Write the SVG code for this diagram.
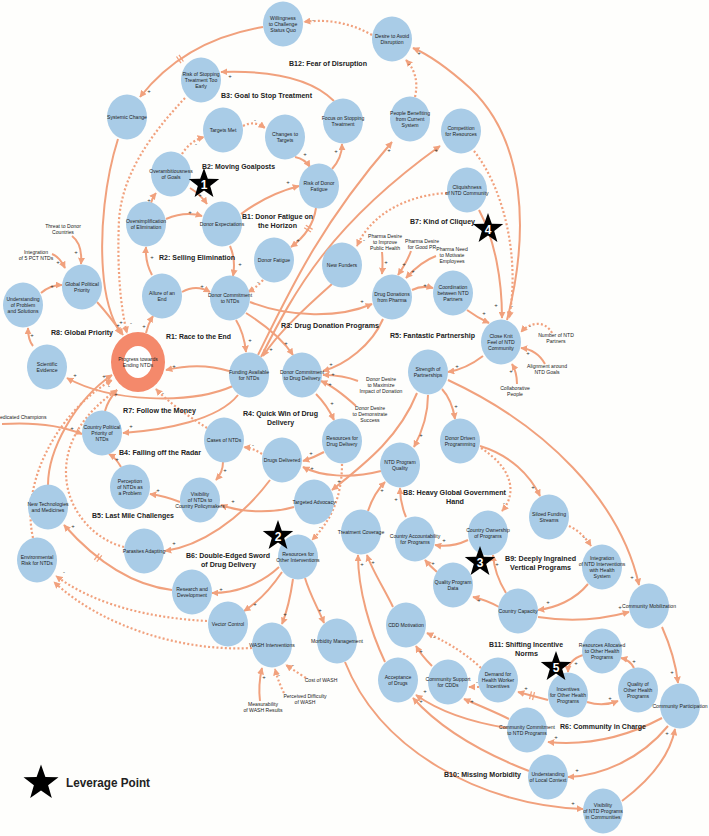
<svg xmlns="http://www.w3.org/2000/svg" width="709" height="836" viewBox="0 0 709 836">
<style>
.e{fill:none;stroke:#f1a17d;stroke-width:2;marker-end:url(#ah)}
.d{fill:none;stroke:#f1a17d;stroke-width:2.2;stroke-dasharray:2 2.2;marker-end:url(#ah)}
.dl{stroke:#f1a17d;stroke-width:1.3}
.nd{fill:#a9cce7}
.t{font-family:"Liberation Sans",Arial,sans-serif;font-size:5.1px;fill:#222;text-anchor:middle}
.lp{font-family:"Liberation Sans",Arial,sans-serif;font-weight:bold;font-size:7.2px;fill:#222}
.s{font-family:"Liberation Sans",Arial,sans-serif;font-size:6px;fill:#333;text-anchor:middle}
.sn{font-family:"Liberation Sans",Arial,sans-serif;font-weight:bold;font-size:12px;fill:#fff;text-anchor:middle}
</style>
<defs>
<marker id="ah" viewBox="0 0 10 10" refX="9" refY="5" markerWidth="7" markerHeight="7" markerUnits="userSpaceOnUse" orient="auto"><path d="M0,0 L10,5 L0,10 z" fill="#f1a17d"/></marker>
<path id="star" d="M0,-16 L3.82,-5.26 L15.22,-4.94 L6.18,2.01 L9.4,12.94 L0,6.5 L-9.4,12.94 L-6.18,2.01 L-15.22,-4.94 L-3.82,-5.26 Z" fill="#000"/>
</defs>
<rect width="709" height="836" fill="#fefefc"/>
<g id="connectors">
<path class="e" d="M263,27 Q185,40 140,97"/>
<path class="d" d="M372,35 Q340,17 304,22"/>
<path class="d" d="M415,97 Q420,75 406,60"/>
<path class="e" d="M507,320 C530,230 525,140 470,88 C450,70 432,56 413,48"/>
<path class="d" d="M474,151 C505,190 520,260 509,318"/>
<path class="e" d="M479,210 C495,240 502,280 502,318"/>
<path class="d" d="M447,193 C410,195 372,212 357,246"/>
<path class="d" d="M243,126 Q254,120 265,128"/>
<path class="d" d="M182,154 Q190,141 204,137"/>
<path class="e" d="M295,157 Q305,159 310,167"/>
<path class="e" d="M332,169 Q342,158 342,144"/>
<path class="e" d="M334,101 C315,82 280,70 221,72"/>
<path class="d" d="M185,98 C150,135 122,175 119,220 C117,265 120,305 127,333"/>
<path class="e" d="M118,139 C105,180 100,230 103,270 C105,300 112,320 121,334"/>
<path class="e" d="M151,203 Q152,198 156,193"/>
<path class="e" d="M190,188 Q200,194 207,204"/>
<path class="e" d="M166,219 Q185,211 202,216"/>
<path class="e" d="M241,214 Q268,194 299,186"/>
<path class="e" d="M230,246 Q236,260 233,276"/>
<path class="e" d="M152,275 Q145,262 146,247"/>
<path class="e" d="M182,292 Q196,284 210,292"/>
<path class="e" d="M146,333 Q148,324 153,316"/>
<path class="d" d="M263,280 Q256,288 248,292"/>
<path class="e" d="M316,208 C314,222 306,236 291,247"/>
<path class="e" d="M236,320 Q244,333 246,352"/>
<path class="e" d="M246,313 C265,325 283,340 293,355"/>
<path class="e" d="M250,302 C290,318 340,318 372,304"/>
<path class="e" d="M258,355 C290,290 320,225 392,142"/>
<path class="e" d="M261,357 C295,290 330,225 440,146"/>
<path class="e" d="M332,284 C305,308 278,333 263,356"/>
<path class="e" d="M229,371 Q200,362 166,370"/>
<path class="e" d="M233,386 C190,405 110,402 67,378"/>
<path class="e" d="M238,395 C218,420 165,430 123,433"/>
<path class="d" d="M207,428 C188,416 168,402 156,389"/>
<path class="d" d="M262,454 Q253,448 244,447"/>
<path class="e" d="M223,462 Q223,472 216,480"/>
<path class="e" d="M180,502 Q165,496 150,494"/>
<path class="e" d="M121,467 Q116,458 109,454"/>
<path class="e" d="M2,424 Q50,421 82,434"/>
<path class="e" d="M294,507 C270,514 240,512 221,505"/>
<path class="e" d="M324,452 Q313,458 303,461"/>
<path class="e" d="M381,471 C350,479 320,476 303,467"/>
<path class="e" d="M270,480 C240,520 200,546 165,551"/>
<path class="d" d="M342,464 C342,495 332,520 312,540"/>
<path class="e" d="M417,393 C400,435 370,460 332,490"/>
<path class="e" d="M428,395 C428,415 422,432 414,447"/>
<path class="e" d="M442,389 Q452,400 455,419"/>
<path class="e" d="M448,380 C545,425 620,500 639,585"/>
<path class="e" d="M480,446 C510,455 530,475 540,496"/>
<path class="d" d="M481,448 C515,470 516,495 502,511"/>
<path class="d" d="M569,526 Q582,532 591,546"/>
<path class="e" d="M588,584 C575,600 555,608 538,610"/>
<path class="e" d="M538,617 C570,622 600,620 629,612"/>
<path class="e" d="M506,593 C498,580 494,568 493,555"/>
<path class="e" d="M499,607 C490,602 482,599 473,597"/>
<path class="e" d="M468,540 Q451,548 435,545"/>
<path class="e" d="M437,572 Q430,566 425,560"/>
<path class="e" d="M406,517 Q400,503 400,488"/>
<path class="e" d="M368,511 Q374,493 385,482"/>
<path class="e" d="M393,607 C385,590 372,570 367,555"/>
<path class="e" d="M385,662 C370,630 358,590 358,555"/>
<path class="e" d="M432,666 C426,660 420,653 416,646"/>
<path class="d" d="M481,668 C462,650 442,640 427,633"/>
<path class="e" d="M548,700 Q533,696 518,692"/>
<path class="e" d="M587,702 Q603,707 618,701"/>
<path class="e" d="M634,668 Q630,660 621,658"/>
<path class="e" d="M583,655 Q568,660 568,672"/>
<path class="d" d="M479,687 L469,687"/>
<path class="e" d="M509,719 C495,712 478,705 464,699"/>
<path class="e" d="M507,728 C470,722 440,712 416,695"/>
<path class="e" d="M529,771 C480,752 440,728 413,698"/>
<path class="e" d="M662,718 C630,735 590,746 548,742"/>
<path class="e" d="M668,726 C640,760 600,776 568,777"/>
<path class="e" d="M622,801 C650,780 670,755 675,729"/>
<path class="e" d="M345,662 C380,750 480,805 583,809"/>
<path class="e" d="M662,627 C670,645 676,665 678,683"/>
<path class="e" d="M282,572 C270,590 258,602 244,611"/>
<path class="e" d="M279,567 C260,585 235,593 212,593"/>
<path class="e" d="M293,579 C290,600 286,614 282,624"/>
<path class="e" d="M305,578 C310,595 318,608 324,623"/>
<path class="e" d="M172,590 C130,585 95,560 64,525"/>
<path class="d" d="M207,621 C150,618 95,605 56,576"/>
<path class="d" d="M252,648 C180,652 100,625 54,582"/>
<path class="d" d="M33,538 C20,480 60,410 112,380"/>
<path class="e" d="M48,485 C48,450 75,400 112,375"/>
<path class="d" d="M124,547 C95,540 65,510 66,470 C67,432 95,405 117,390"/>
<path class="e" d="M105,411 Q108,400 117,390"/>
<path class="e" d="M97,302 C108,314 116,325 123,335"/>
<path class="e" d="M72,236 C80,242 82,252 81,264"/>
<path class="e" d="M52,254 C58,256 62,262 65,268"/>
<path class="e" d="M41,293 Q50,285 62,285"/>
<path class="e" d="M33,346 Q28,340 28,328"/>
<path class="e" d="M412,290 Q422,285 433,288"/>
<path class="e" d="M467,310 Q478,318 489,323"/>
<path class="e" d="M483,356 C470,366 460,370 448,372"/>
<path class="d" d="M552,333 C545,320 530,322 521,332"/>
<path class="e" d="M545,364 C540,355 531,349 521,348"/>
<path class="e" d="M517,384 C517,376 515,369 512,364"/>
<path class="e" d="M382,252 Q383,263 382,274"/>
<path class="e" d="M411,251 Q407,262 398,275"/>
<path class="e" d="M436,256 C425,260 415,268 406,278"/>
<path class="e" d="M383,319 C372,345 345,365 323,371"/>
<path class="e" d="M358,381 Q343,375 323,375"/>
<path class="e" d="M356,406 C345,396 333,386 321,381"/>
<path class="e" d="M316,394 Q327,405 334,420"/>
<path class="d" d="M306,678 Q295,671 286,665"/>
<path class="d" d="M284,693 Q278,681 275,669"/>
<path class="e" d="M260,701 Q258,685 262,668"/>
<path class="dl" d="M176.5,56.5 L181,63.1 M179,54.9 L183.4,61.5"/>
<path class="dl" d="M304.2,227.8 L311,232 M305.8,225.2 L312.6,229.4"/>
<path class="dl" d="M94.3,559.8 L99.3,553.5 M96.8,561.6 L101.8,555.4"/>
<path class="dl" d="M532.5,700 L534.5,692.2 M529.5,699.2 L531.5,691.4"/>
</g>
<g id="polarity" class="s">
<text x="149" y="93">+</text><text x="313" y="22">-</text><text x="409" y="66">-</text><text x="419" y="55">+</text>
<text x="512" y="308">-</text><text x="496" y="307">+</text><text x="364" y="242">-</text><text x="255" y="122">-</text>
<text x="196" y="146">-</text><text x="305" y="156">+</text><text x="336" y="153">+</text><text x="230" y="78">+</text>
<text x="131" y="325">-</text><text x="121" y="324">+</text><text x="149" y="202">+</text><text x="200" y="197">+</text>
<text x="190" y="214">+</text><text x="288" y="184">+</text><text x="240" y="266">+</text><text x="152" y="259">+</text>
<text x="202" y="288">+</text><text x="144" y="328">+</text><text x="258" y="284">-</text><text x="298" y="242">+</text>
<text x="250" y="342">+</text><text x="286" y="345">+</text><text x="362" y="303">+</text><text x="389" y="152">+</text>
<text x="436" y="152">+</text><text x="271" y="351">+</text><text x="174" y="368">+</text><text x="75" y="377">+</text>
<text x="131" y="428">+</text><text x="163" y="395">-</text><text x="253" y="447">-</text><text x="225" y="472">+</text>
<text x="158" y="492">+</text><text x="117" y="461">+</text><text x="72" y="430">+</text><text x="233" y="503">+</text>
<text x="311" y="455">+</text><text x="312" y="470">+</text><text x="174" y="545">+</text><text x="320" y="529">-</text>
<text x="339" y="483">+</text><text x="421" y="437">+</text><text x="456" y="408">+</text><text x="632" y="579">+</text>
<text x="533" y="489">+</text><text x="504" y="505">-</text><text x="584" y="539">-</text><text x="548" y="604">+</text>
<text x="620" y="609">+</text><text x="497" y="566">+</text><text x="479" y="602">+</text><text x="444" y="542">+</text>
<text x="433" y="565">+</text><text x="396" y="501">+</text><text x="382" y="492">+</text><text x="373" y="564">+</text>
<text x="362" y="566">+</text><text x="421" y="653">+</text><text x="434" y="639">-</text><text x="526" y="690">+</text>
<text x="610" y="700">+</text><text x="634" y="663">+</text><text x="576" y="665">+</text><text x="477" y="684">-</text>
<text x="472" y="703">+</text><text x="425" y="693">+</text><text x="421" y="703">+</text><text x="556" y="739">+</text>
<text x="577" y="772">+</text><text x="667" y="735">+</text><text x="573" y="805">+</text><text x="672" y="674">+</text>
<text x="255" y="606">+</text><text x="221" y="591">+</text><text x="285" y="616">+</text><text x="320" y="612">+</text>
<text x="73" y="528">+</text><text x="64" y="574">-</text><text x="109" y="388">-</text><text x="104" y="378">+</text>
<text x="116" y="396">+</text><text x="118" y="327">+</text><text x="76" y="254">+</text><text x="58" y="264">+</text>
<text x="52" y="288">+</text><text x="32" y="337">+</text><text x="425" y="287">+</text><text x="484" y="315">+</text>
<text x="457" y="368">+</text><text x="530" y="328">-</text><text x="528" y="355">+</text><text x="511" y="373">+</text>
<text x="386" y="264">+</text><text x="404" y="266">+</text><text x="413" y="273">+</text><text x="331" y="366">+</text>
<text x="333" y="376">+</text><text x="330" y="386">+</text><text x="332" y="405">+</text><text x="293" y="667">-</text>
<text x="279" y="677">-</text><text x="264" y="679">+</text>
</g>
<g id="n-willingness"><ellipse class="nd" cx="283" cy="24" rx="20" ry="22.5"/><text class="t" x="283" y="20">Willingness<tspan x="283" dy="5.8">to Challenge</tspan><tspan x="283" dy="5.8">Status Quo</tspan></text></g>
<g id="n-desire"><ellipse class="nd" cx="392" cy="39" rx="20" ry="22.5"/><text class="t" x="392" y="37.9">Desire to Avoid<tspan x="392" dy="5.8">Disruption</tspan></text></g>
<g id="n-riskstop"><ellipse class="nd" cx="201" cy="80" rx="20" ry="22.5"/><text class="t" x="201" y="76">Risk of Stopping<tspan x="201" dy="5.8">Treatment Too</tspan><tspan x="201" dy="5.8">Early</tspan></text></g>
<g id="n-systemic"><ellipse class="nd" cx="127" cy="117" rx="20" ry="22.5"/><text class="t" x="127" y="118.8">Systemic Change</text></g>
<g id="n-targetsmet"><ellipse class="nd" cx="223" cy="130" rx="20" ry="22.5"/><text class="t" x="223" y="131.8">Targets Met</text></g>
<g id="n-overamb"><ellipse class="nd" cx="171" cy="174" rx="20" ry="22.5"/><text class="t" x="171" y="172.9">Overambitiousness<tspan x="171" dy="5.8">of Goals</tspan></text></g>
<g id="n-changes"><ellipse class="nd" cx="285" cy="137" rx="20" ry="22.5"/><text class="t" x="285" y="135.9">Changes to<tspan x="285" dy="5.8">Targets</tspan></text></g>
<g id="n-focus"><ellipse class="nd" cx="343" cy="121" rx="20" ry="22.5"/><text class="t" x="343" y="119.9">Focus on Stopping<tspan x="343" dy="5.8">Treatment</tspan></text></g>
<g id="n-people"><ellipse class="nd" cx="410" cy="119" rx="20" ry="22.5"/><text class="t" x="410" y="115">People Benefiting<tspan x="410" dy="5.8">from Current</tspan><tspan x="410" dy="5.8">System</tspan></text></g>
<g id="n-competition"><ellipse class="nd" cx="461" cy="131" rx="20" ry="22.5"/><text class="t" x="461" y="129.9">Competition<tspan x="461" dy="5.8">for Resources</tspan></text></g>
<g id="n-riskdf"><ellipse class="nd" cx="319" cy="186" rx="20" ry="22.5"/><text class="t" x="319" y="184.9">Risk of Donor<tspan x="319" dy="5.8">Fatigue</tspan></text></g>
<g id="n-cliq"><ellipse class="nd" cx="467" cy="190" rx="20" ry="22.5"/><text class="t" x="467" y="188.9">Cliquishness<tspan x="467" dy="5.8">of NTD Community</tspan></text></g>
<g id="n-donorexp"><ellipse class="nd" cx="222" cy="224" rx="20" ry="22.5"/><text class="t" x="222" y="225.8">Donor Expectations</text></g>
<g id="n-oversimp"><ellipse class="nd" cx="146" cy="224" rx="20" ry="22.5"/><text class="t" x="146" y="222.9">Oversimplification<tspan x="146" dy="5.8">of Elimination</tspan></text></g>
<g id="n-donorfat"><ellipse class="nd" cx="274" cy="260" rx="20" ry="22.5"/><text class="t" x="274" y="261.8">Donor Fatigue</text></g>
<g id="n-newfunders"><ellipse class="nd" cx="342" cy="265" rx="20" ry="22.5"/><text class="t" x="342" y="266.8">New Funders</text></g>
<g id="n-drugdon"><ellipse class="nd" cx="392" cy="297" rx="20" ry="22.5"/><text class="t" x="392" y="295.9">Drug Donations<tspan x="392" dy="5.8">from Pharma</tspan></text></g>
<g id="n-coord"><ellipse class="nd" cx="453" cy="293" rx="20" ry="22.5"/><text class="t" x="453" y="289">Coordination<tspan x="453" dy="5.8">between NTD</tspan><tspan x="453" dy="5.8">Partners</tspan></text></g>
<g id="n-closeknit"><ellipse class="nd" cx="501" cy="342" rx="20" ry="22.5"/><text class="t" x="501" y="338">Close Knit<tspan x="501" dy="5.8">Feel of NTD</tspan><tspan x="501" dy="5.8">Community</tspan></text></g>
<g id="n-allure"><ellipse class="nd" cx="162" cy="296" rx="20" ry="22.5"/><text class="t" x="162" y="294.9">Allure of an<tspan x="162" dy="5.8">End</tspan></text></g>
<g id="n-dcntd"><ellipse class="nd" cx="230" cy="298" rx="20" ry="22.5"/><text class="t" x="230" y="296.9">Donor Commitment<tspan x="230" dy="5.8">to NTDs</tspan></text></g>
<g id="n-gpp"><ellipse class="nd" cx="82" cy="287" rx="20" ry="22.5"/><text class="t" x="82" y="285.9">Global Political<tspan x="82" dy="5.8">Priority</tspan></text></g>
<g id="n-underst"><ellipse class="nd" cx="23" cy="305" rx="20" ry="22.5"/><text class="t" x="23" y="301">Understanding<tspan x="23" dy="5.8">of Problem</tspan><tspan x="23" dy="5.8">and Solutions</tspan></text></g>
<g id="n-scievid"><ellipse class="nd" cx="47" cy="367" rx="20" ry="22.5"/><text class="t" x="47" y="365.9">Scientific<tspan x="47" dy="5.8">Evidence</tspan></text></g>
<g id="n-progress"><ellipse cx="138" cy="362" rx="27" ry="30" fill="#f4896b"/><ellipse cx="138" cy="362" rx="14" ry="16" fill="#fff"/><text class="t" x="138" y="360.9">Progress towards<tspan x="138" dy="5.8">Ending NTDs</tspan></text></g>
<g id="n-funding"><ellipse class="nd" cx="249" cy="375" rx="20" ry="22.5"/><text class="t" x="249" y="373.9">Funding Available<tspan x="249" dy="5.8">for NTDs</tspan></text></g>
<g id="n-dcdd"><ellipse class="nd" cx="302" cy="375" rx="20" ry="22.5"/><text class="t" x="302" y="373.9">Donor Commitment<tspan x="302" dy="5.8">to Drug Delivery</tspan></text></g>
<g id="n-strength"><ellipse class="nd" cx="428" cy="372" rx="20" ry="22.5"/><text class="t" x="428" y="370.9">Strength of<tspan x="428" dy="5.8">Partnerships</tspan></text></g>
<g id="n-cpp"><ellipse class="nd" cx="102" cy="433" rx="20" ry="22.5"/><text class="t" x="102" y="429">Country Political<tspan x="102" dy="5.8">Priority of</tspan><tspan x="102" dy="5.8">NTDs</tspan></text></g>
<g id="n-cases"><ellipse class="nd" cx="224" cy="440" rx="20" ry="22.5"/><text class="t" x="224" y="441.8">Cases of NTDs</text></g>
<g id="n-percep"><ellipse class="nd" cx="130" cy="487" rx="20" ry="22.5"/><text class="t" x="130" y="483">Perception<tspan x="130" dy="5.8">of NTDs as</tspan><tspan x="130" dy="5.8">a Problem</tspan></text></g>
<g id="n-visib"><ellipse class="nd" cx="200" cy="500" rx="20" ry="22.5"/><text class="t" x="200" y="496">Visibility<tspan x="200" dy="5.8">of NTDs to</tspan><tspan x="200" dy="5.8">Country Policymakers</tspan></text></g>
<g id="n-resdd"><ellipse class="nd" cx="342" cy="441" rx="20" ry="22.5"/><text class="t" x="342" y="439.9">Resources for<tspan x="342" dy="5.8">Drug Delivery</tspan></text></g>
<g id="n-drugsdel"><ellipse class="nd" cx="282" cy="460" rx="20" ry="22.5"/><text class="t" x="282" y="461.8">Drugs Delivered</text></g>
<g id="n-ntdpq"><ellipse class="nd" cx="400" cy="465" rx="20" ry="22.5"/><text class="t" x="400" y="463.9">NTD Program<tspan x="400" dy="5.8">Quality</tspan></text></g>
<g id="n-donordriven"><ellipse class="nd" cx="460" cy="441" rx="20" ry="22.5"/><text class="t" x="460" y="439.9">Donor Driven<tspan x="460" dy="5.8">Programming</tspan></text></g>
<g id="n-targadv"><ellipse class="nd" cx="314" cy="502" rx="20" ry="22.5"/><text class="t" x="314" y="503.8">Targeted Advocacy</text></g>
<g id="n-newtech"><ellipse class="nd" cx="48" cy="507" rx="20" ry="22.5"/><text class="t" x="48" y="505.9">New Technologies<tspan x="48" dy="5.8">and Medicines</tspan></text></g>
<g id="n-parasites"><ellipse class="nd" cx="144" cy="551" rx="20" ry="22.5"/><text class="t" x="144" y="552.8">Parasites Adapting</text></g>
<g id="n-envrisk"><ellipse class="nd" cx="37" cy="560" rx="20" ry="22.5"/><text class="t" x="37" y="558.9">Environmental<tspan x="37" dy="5.8">Risk for NTDs</tspan></text></g>
<g id="n-treatcov"><ellipse class="nd" cx="361" cy="532" rx="20" ry="22.5"/><text class="t" x="361" y="533.8">Treatment Coverage</text></g>
<g id="n-countryacc"><ellipse class="nd" cx="415" cy="539" rx="20" ry="22.5"/><text class="t" x="415" y="537.9">Country Accountability<tspan x="415" dy="5.8">for Programs</tspan></text></g>
<g id="n-countryown"><ellipse class="nd" cx="488" cy="533" rx="20" ry="22.5"/><text class="t" x="488" y="531.9">Country Ownership<tspan x="488" dy="5.8">of Programs</tspan></text></g>
<g id="n-siloed"><ellipse class="nd" cx="549" cy="517" rx="20" ry="22.5"/><text class="t" x="549" y="515.9">Siloed Funding<tspan x="549" dy="5.8">Streams</tspan></text></g>
<g id="n-resother"><ellipse class="nd" cx="298" cy="557" rx="20" ry="22.5"/><text class="t" x="298" y="555.9">Resources for<tspan x="298" dy="5.8">Other Interventions</tspan></text></g>
<g id="n-rnd"><ellipse class="nd" cx="192" cy="592" rx="20" ry="22.5"/><text class="t" x="192" y="590.9">Research and<tspan x="192" dy="5.8">Development</tspan></text></g>
<g id="n-qpd"><ellipse class="nd" cx="453" cy="585" rx="20" ry="22.5"/><text class="t" x="453" y="583.9">Quality Program<tspan x="453" dy="5.8">Data</tspan></text></g>
<g id="n-integration"><ellipse class="nd" cx="602" cy="567" rx="20" ry="22.5"/><text class="t" x="602" y="560.1">Integration<tspan x="602" dy="5.8">of NTD Interventions</tspan><tspan x="602" dy="5.8">with Health</tspan><tspan x="602" dy="5.8">System</tspan></text></g>
<g id="n-countrycap"><ellipse class="nd" cx="518" cy="611" rx="20" ry="22.5"/><text class="t" x="518" y="612.8">Country Capacity</text></g>
<g id="n-commmob"><ellipse class="nd" cx="649" cy="606" rx="20" ry="22.5"/><text class="t" x="649" y="607.8">Community Mobilization</text></g>
<g id="n-vector"><ellipse class="nd" cx="228" cy="624" rx="20" ry="22.5"/><text class="t" x="228" y="625.8">Vector Control</text></g>
<g id="n-morbidity"><ellipse class="nd" cx="337" cy="641" rx="20" ry="22.5"/><text class="t" x="337" y="642.8">Morbidity Management</text></g>
<g id="n-wash"><ellipse class="nd" cx="272" cy="645" rx="20" ry="22.5"/><text class="t" x="272" y="646.8">WASH Interventions</text></g>
<g id="n-cddmot"><ellipse class="nd" cx="406" cy="625" rx="20" ry="22.5"/><text class="t" x="406" y="626.8">CDD Motivation</text></g>
<g id="n-acceptance"><ellipse class="nd" cx="398" cy="680" rx="20" ry="22.5"/><text class="t" x="398" y="678.9">Acceptance<tspan x="398" dy="5.8">of Drugs</tspan></text></g>
<g id="n-commsupp"><ellipse class="nd" cx="448" cy="682" rx="20" ry="22.5"/><text class="t" x="448" y="680.9">Community Support<tspan x="448" dy="5.8">for CDDs</tspan></text></g>
<g id="n-demand"><ellipse class="nd" cx="498" cy="680" rx="20" ry="22.5"/><text class="t" x="498" y="676">Demand for<tspan x="498" dy="5.8">Health Worker</tspan><tspan x="498" dy="5.8">Incentives</tspan></text></g>
<g id="n-resalloc"><ellipse class="nd" cx="602" cy="651" rx="20" ry="22.5"/><text class="t" x="602" y="647">Resources Allocated<tspan x="602" dy="5.8">to Other Health</tspan><tspan x="602" dy="5.8">Programs</tspan></text></g>
<g id="n-incentives"><ellipse class="nd" cx="568" cy="695" rx="20" ry="22.5"/><text class="t" x="568" y="691">Incentives<tspan x="568" dy="5.8">for Other Health</tspan><tspan x="568" dy="5.8">Programs</tspan></text></g>
<g id="n-qualother"><ellipse class="nd" cx="638" cy="690" rx="20" ry="22.5"/><text class="t" x="638" y="686">Quality of<tspan x="638" dy="5.8">Other Health</tspan><tspan x="638" dy="5.8">Programs</tspan></text></g>
<g id="n-commpart"><ellipse class="nd" cx="680" cy="706" rx="20" ry="22.5"/><text class="t" x="680" y="707.8">Community Participation</text></g>
<g id="n-commcommit"><ellipse class="nd" cx="527" cy="730" rx="20" ry="22.5"/><text class="t" x="527" y="728.9">Community Commitment<tspan x="527" dy="5.8">to NTD Programs</tspan></text></g>
<g id="n-underlocal"><ellipse class="nd" cx="548" cy="777" rx="20" ry="22.5"/><text class="t" x="548" y="775.9">Understanding<tspan x="548" dy="5.8">of Local Context</tspan></text></g>
<g id="n-visibntd"><ellipse class="nd" cx="603" cy="811" rx="20" ry="22.5"/><text class="t" x="603" y="807">Visibility<tspan x="603" dy="5.8">of NTD Programs</tspan><tspan x="603" dy="5.8">in Communities</tspan></text></g>
<g id="exogenous" class="t">
<text x="63" y="228">Threat to Donor<tspan x="63" dy="5.8">Countries</tspan></text>
<text x="36" y="254">Integration<tspan x="36" dy="5.8">of 5 PCT NTDs</tspan></text>
<text x="385" y="238">Pharma Desire<tspan x="385" dy="5.8">to Improve</tspan><tspan x="385" dy="5.8">Public Health</tspan></text>
<text x="422" y="243">Pharma Desire<tspan x="422" dy="5.8">for Good PR</tspan></text>
<text x="452" y="251">Pharma Need<tspan x="452" dy="5.8">to Motivate</tspan><tspan x="452" dy="5.8">Employees</tspan></text>
<text x="556" y="337">Number of NTD<tspan x="556" dy="5.8">Partners</tspan></text>
<text x="547" y="368">Alignment around<tspan x="547" dy="5.8">NTD Goals</tspan></text>
<text x="515" y="390">Collaborative<tspan x="515" dy="5.8">People</tspan></text>
<text x="381" y="381">Donor Desire<tspan x="381" dy="5.8">to Maximize</tspan><tspan x="381" dy="5.8">Impact of Donation</tspan></text>
<text x="370" y="410">Donor Desire<tspan x="370" dy="5.8">to Demonstrate</tspan><tspan x="370" dy="5.8">Success</tspan></text>
<text x="0" y="419" style="text-anchor:start">edicated Champions</text>
<text x="321" y="682">Cost of WASH</text>
<text x="305" y="698">Perceived Difficulty<tspan x="305" dy="5.8">of WASH</tspan></text>
<text x="263" y="706">Measurability<tspan x="263" dy="5.8">of WASH Results</tspan></text>
</g>
<g id="loops" class="lp">
<text x="289" y="66" textLength="78" lengthAdjust="spacingAndGlyphs">B12: Fear of Disruption</text>
<text x="221" y="98" textLength="91" lengthAdjust="spacingAndGlyphs">B3: Goal to Stop Treatment</text>
<text x="202" y="169" textLength="73" lengthAdjust="spacingAndGlyphs">B2: Moving Goalposts</text>
<text x="242" y="219" textLength="71" lengthAdjust="spacingAndGlyphs">B1: Donor Fatigue on</text>
<text x="258" y="227.5" textLength="39" lengthAdjust="spacingAndGlyphs">the Horizon</text>
<text x="159" y="260" textLength="76" lengthAdjust="spacingAndGlyphs">R2: Selling Elimination</text>
<text x="281" y="328" textLength="98" lengthAdjust="spacingAndGlyphs">R3: Drug Donation Programs</text>
<text x="410" y="224" textLength="65" lengthAdjust="spacingAndGlyphs">B7: Kind of Cliquey</text>
<text x="390" y="338" textLength="85" lengthAdjust="spacingAndGlyphs">R5: Fantastic Partnership</text>
<text x="51" y="335" textLength="62" lengthAdjust="spacingAndGlyphs">R8: Global Priority</text>
<text x="166" y="339" textLength="65" lengthAdjust="spacingAndGlyphs">R1: Race to the End</text>
<text x="123" y="413" textLength="73" lengthAdjust="spacingAndGlyphs">R7: Follow the Money</text>
<text x="243" y="416" textLength="75" lengthAdjust="spacingAndGlyphs">R4: Quick Win of Drug</text>
<text x="267" y="424.5" textLength="27" lengthAdjust="spacingAndGlyphs">Delivery</text>
<text x="119" y="455" textLength="82" lengthAdjust="spacingAndGlyphs">B4: Falling off the Radar</text>
<text x="92" y="518" textLength="82" lengthAdjust="spacingAndGlyphs">B5: Last Mile Challenges</text>
<text x="186" y="558" textLength="84" lengthAdjust="spacingAndGlyphs">B6: Double-Edged Sword</text>
<text x="201" y="566.5" textLength="55" lengthAdjust="spacingAndGlyphs">of Drug Delivery</text>
<text x="403" y="495" textLength="103" lengthAdjust="spacingAndGlyphs">B8: Heavy Global Government</text>
<text x="446" y="503.5" textLength="18" lengthAdjust="spacingAndGlyphs">Hand</text>
<text x="505" y="561" textLength="71" lengthAdjust="spacingAndGlyphs">B9: Deeply Ingrained</text>
<text x="510" y="570" textLength="61" lengthAdjust="spacingAndGlyphs">Vertical Programs</text>
<text x="489" y="647" textLength="74" lengthAdjust="spacingAndGlyphs">B11: Shifting Incentive</text>
<text x="515" y="656" textLength="23" lengthAdjust="spacingAndGlyphs">Norms</text>
<text x="560" y="729" textLength="86" lengthAdjust="spacingAndGlyphs">R6: Community in Charge</text>
<text x="444" y="777" textLength="77" lengthAdjust="spacingAndGlyphs">B10: Missing Morbidity</text>
</g>
<g id="leverage-points">
<use href="#star" transform="translate(204,184)"/><text class="sn" x="204" y="188.5">1</text>
<use href="#star" transform="translate(278,536)"/><text class="sn" x="278" y="540.5">2</text>
<use href="#star" transform="translate(480,562)"/><text class="sn" x="480" y="566.5">3</text>
<use href="#star" transform="translate(488,229)"/><text class="sn" x="488" y="233.5">4</text>
<use href="#star" transform="translate(556,667)"/><text class="sn" x="556" y="671.5">5</text>
</g>
<g id="legend">
<use href="#star" transform="translate(41,783) scale(1.15)"/>
<text x="66" y="787" class="lp" style="font-size:12px" textLength="84" lengthAdjust="spacingAndGlyphs">Leverage Point</text>
</g>
</svg>
